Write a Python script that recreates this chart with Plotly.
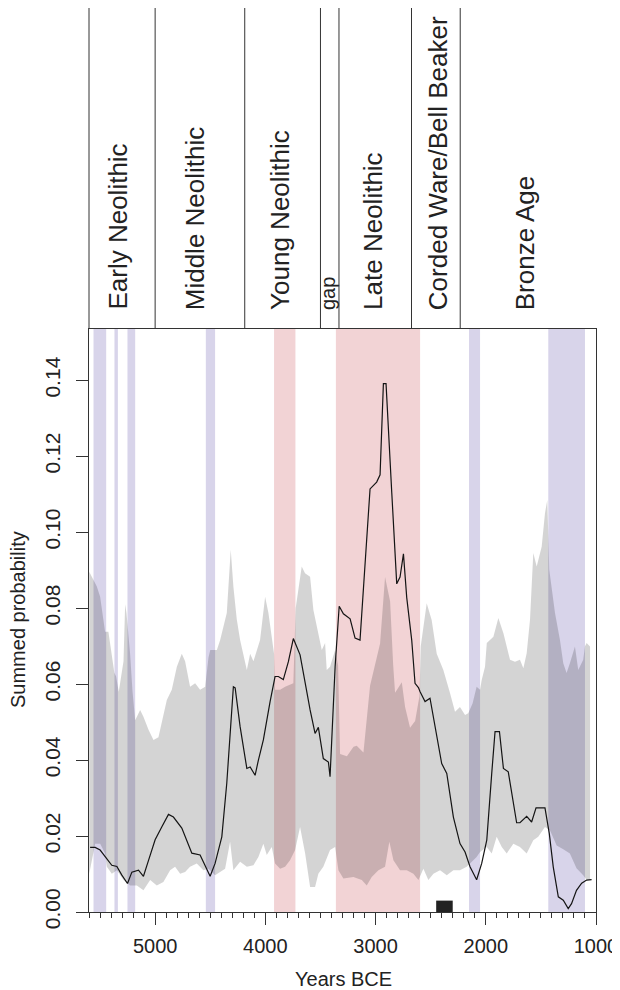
import plotly.graph_objects as go

# ---------------- data ----------------
mean_years = [5590, 5544, 5499, 5454, 5393, 5347, 5302, 5251, 5211, 5151, 5106, 5060, 5000, 4940, 4879,
              4834, 4758, 4667, 4592, 4501, 4456, 4395, 4350, 4290, 4274, 4229, 4168, 4138, 4093, 4063,
              4018, 3957, 3912, 3882, 3837, 3791, 3746, 3685, 3639, 3594, 3549, 3519, 3474, 3428, 3413,
              3367, 3330, 3292, 3231, 3186, 3141, 3095, 3050, 2990, 2959, 2929, 2905, 2853, 2808, 2778,
              2747, 2717, 2672, 2642, 2611, 2596, 2551, 2506, 2460, 2400, 2354, 2294, 2234, 2188, 2143,
              2083, 2037, 1991, 1946, 1916, 1876, 1840, 1796, 1720, 1690, 1629, 1584, 1544, 1463, 1424,
              1388, 1342, 1297, 1252, 1222, 1177, 1130, 1085, 1040]
mean_prob = [0.0170, 0.0170, 0.0163, 0.0145, 0.0123, 0.0120, 0.0097, 0.0075, 0.0105, 0.0110, 0.0094, 0.0136,
             0.0190, 0.0224, 0.0257, 0.0250, 0.0221, 0.0155, 0.0150, 0.0094, 0.0128, 0.0198, 0.0339, 0.0593,
             0.0590, 0.0488, 0.0378, 0.0382, 0.0360, 0.0400, 0.0453, 0.0554, 0.0620, 0.0620, 0.0612, 0.0659,
             0.0720, 0.0677, 0.0602, 0.0532, 0.0470, 0.0486, 0.0404, 0.0395, 0.0356, 0.0646, 0.0805, 0.0785,
             0.0772, 0.0721, 0.0716, 0.0910, 0.1114, 0.1132, 0.1151, 0.1391, 0.1391, 0.1104, 0.0864, 0.0882,
             0.0943, 0.0827, 0.0716, 0.0602, 0.0591, 0.0580, 0.0554, 0.0563, 0.0488, 0.0391, 0.0365, 0.0250,
             0.0180, 0.0158, 0.0119, 0.0085, 0.0128, 0.0189, 0.0365, 0.0475, 0.0475, 0.0378, 0.0369, 0.0235,
             0.0235, 0.0252, 0.0237, 0.0274, 0.0274, 0.0207, 0.0119, 0.0040, 0.0031, 0.0009, 0.0022, 0.0057,
             0.0076, 0.0084, 0.0085]

upper_years = [5598, 5529, 5499, 5454, 5424, 5393, 5370, 5354, 5330, 5287, 5272, 5260, 5227, 5205, 5181,
               5136, 5106, 5060, 5015, 4970, 4925, 4894, 4849, 4803, 4758, 4728, 4683, 4637, 4592, 4546,
               4516, 4500, 4440, 4410, 4350, 4314, 4290, 4259, 4229, 4168, 4138, 4108, 4048, 4002, 3972,
               3942, 3921, 3912, 3866, 3821, 3746, 3725, 3700, 3670, 3640, 3594, 3564, 3534, 3488, 3458,
               3443, 3413, 3367, 3340, 3322, 3260, 3200, 3171, 3110, 3050, 2959, 2914, 2868, 2840, 2823,
               2762, 2732, 2687, 2641, 2602, 2590, 2536, 2491, 2445, 2385, 2324, 2294, 2279, 2234, 2188,
               2159, 2120, 2083, 2052, 2037, 2007, 1991, 1931, 1886, 1840, 1780, 1735, 1690, 1659, 1629,
               1599, 1569, 1538, 1493, 1463, 1442, 1430, 1424, 1372, 1327, 1297, 1267, 1237, 1191, 1161,
               1116, 1100, 1085, 1054]
upper_prob = [0.0896, 0.0857, 0.0830, 0.0738, 0.0738, 0.0680, 0.0630, 0.0620, 0.0580, 0.0660, 0.0810, 0.0787,
              0.0680, 0.0580, 0.0505, 0.0532, 0.0514, 0.0480, 0.0453, 0.0460, 0.0514, 0.0558, 0.0585, 0.0646,
              0.0680, 0.0660, 0.0593, 0.0602, 0.0585, 0.0593, 0.0670, 0.0690, 0.0690, 0.0716, 0.0787, 0.0954,
              0.0857, 0.0770, 0.0716, 0.0637, 0.0680, 0.0660, 0.0716, 0.0830, 0.0787, 0.0716, 0.0680, 0.0585,
              0.0585, 0.0593, 0.0602, 0.0800, 0.0857, 0.0910, 0.0892, 0.0883, 0.0795, 0.0751, 0.0690, 0.0708,
              0.0637, 0.0646, 0.0690, 0.0650, 0.0416, 0.0410, 0.0435, 0.0438, 0.0420, 0.0596, 0.0707, 0.0882,
              0.0818, 0.0650, 0.0577, 0.0605, 0.0540, 0.0485, 0.0503, 0.0568, 0.0700, 0.0813, 0.0769, 0.0680,
              0.0637, 0.0576, 0.0540, 0.0527, 0.0540, 0.0519, 0.0523, 0.0549, 0.0593, 0.0585, 0.0611, 0.0646,
              0.0708, 0.0725, 0.0774, 0.0734, 0.0664, 0.0659, 0.0664, 0.0642, 0.0681, 0.0769, 0.0945, 0.0910,
              0.0962, 0.1050, 0.1085, 0.0950, 0.0901, 0.0787, 0.0716, 0.0655, 0.0629, 0.0655, 0.0699, 0.0637,
              0.0664, 0.0700, 0.0708, 0.0699]

lower_years = [5598, 5544, 5499, 5454, 5438, 5393, 5347, 5287, 5227, 5166, 5106, 5045, 4985, 4925, 4864,
               4819, 4773, 4728, 4683, 4622, 4562, 4516, 4456, 4410, 4365, 4320, 4290, 4229, 4168, 4108,
               4063, 4018, 3987, 3942, 3912, 3866, 3821, 3776, 3730, 3685, 3639, 3594, 3549, 3519, 3474,
               3413, 3367, 3337, 3292, 3201, 3125, 3080, 3035, 2974, 2914, 2875, 2838, 2778, 2717, 2657,
               2611, 2566, 2521, 2475, 2415, 2354, 2294, 2234, 2173, 2083, 2052, 1991, 1946, 1901, 1855,
               1810, 1750, 1690, 1629, 1569, 1524, 1463, 1418, 1357, 1297, 1237, 1177, 1116, 1085, 1054]
lower_prob = [0.0101, 0.0180, 0.0180, 0.0154, 0.0119, 0.0101, 0.0110, 0.0084, 0.0070, 0.0070, 0.0057, 0.0084,
              0.0070, 0.0079, 0.0110, 0.0119, 0.0101, 0.0105, 0.0119, 0.0128, 0.0110, 0.0114, 0.0097, 0.0105,
              0.0114, 0.0185, 0.0110, 0.0132, 0.0119, 0.0123, 0.0145, 0.0180, 0.0150, 0.0171, 0.0128, 0.0114,
              0.0119, 0.0136, 0.0163, 0.0224, 0.0154, 0.0066, 0.0066, 0.0101, 0.0119, 0.0163, 0.0171, 0.0110,
              0.0088, 0.0092, 0.0084, 0.0070, 0.0092, 0.0110, 0.0119, 0.0185, 0.0136, 0.0110, 0.0110, 0.0101,
              0.0084, 0.0114, 0.0084, 0.0101, 0.0110, 0.0097, 0.0110, 0.0110, 0.0119, 0.0145, 0.0158, 0.0171,
              0.0154, 0.0198, 0.0171, 0.0154, 0.0180, 0.0171, 0.0154, 0.0189, 0.0198, 0.0224, 0.0215, 0.0175,
              0.0165, 0.0154, 0.0115, 0.0097, 0.0084, 0.0084]

blue_band_start = [5559, 5369, 5251, 4540, 2152, 1433]
blue_band_end = [5444, 5338, 5181, 4456, 2052, 1100]
pink_band_start = [3921, 3360]
pink_band_end = [3727, 2596]

marker_start, marker_end, marker_height = 2450, 2300, 0.003

period_bounds = [5000, 4187, 3500, 3332, 2674, 2232]
period_labels = ["Early Neolithic", "Middle Neolithic", "Young Neolithic", "gap",
                 "Late Neolithic", "Corded Ware/Bell Beaker", "Bronze Age"]
period_label_x = [5341, 4636, 3868, 3426, 3024, 2432, 1642]

x_ticks = [5000, 4000, 3000, 2000, 1000]
y_ticks = [0.00, 0.02, 0.04, 0.06, 0.08, 0.10, 0.12, 0.14]

# ---------------- layout constants ----------------
# the page body has an 8px margin, so the figure is drawn 8px in from the window edge
W, H = 612, 982
ML, MR, MT, MB = 81, 24, 0, 78
plot_w = W - ML - MR
plot_h = H - MT - MB
main_top_px = 321           # figure px of the top of the main plot frame
main_frac = (H - MB - main_top_px) / plot_h
FONT = "Liberation Sans, Arial, Helvetica, sans-serif"
INK = "#222222"
LINE = "#333333"

fig = go.Figure()

# grey envelope
fig.add_trace(go.Scatter(
    x=upper_years + lower_years[::-1],
    y=upper_prob + lower_prob[::-1],
    fill="toself", fillcolor="rgba(0,0,0,0.17)",
    line=dict(width=0), mode="lines", hoverinfo="skip", showlegend=False))

# mean curve
fig.add_trace(go.Scatter(
    x=mean_years, y=mean_prob, mode="lines",
    line=dict(color="#141414", width=1.2), showlegend=False, hoverinfo="skip"))

shapes = []
for s, e in zip(blue_band_start, blue_band_end):
    shapes.append(dict(type="rect", xref="x", yref="y", x0=s, x1=e, y0=0, y1=0.1535,
                       fillcolor="#d8d4ea", line=dict(width=0), layer="below"))
for s, e in zip(pink_band_start, pink_band_end):
    shapes.append(dict(type="rect", xref="x", yref="y", x0=s, x1=e, y0=0, y1=0.1535,
                       fillcolor="#f2d3d5", line=dict(width=0), layer="below"))
shapes.append(dict(type="rect", xref="x", yref="y", x0=marker_start, x1=marker_end,
                   y0=0, y1=marker_height, fillcolor="#222222", line=dict(width=0), layer="above"))

# top period panel lines
shapes.append(dict(type="line", xref="paper", yref="paper", x0=0, x1=0, y0=main_frac, y1=1,
                   line=dict(color=LINE, width=1)))
for b in period_bounds:
    shapes.append(dict(type="line", xref="x", yref="paper", x0=b, x1=b, y0=main_frac, y1=1,
                       line=dict(color=LINE, width=1)))

annotations = []
label_bottom_px = 304
for lab, lx in zip(period_labels, period_label_x):
    annotations.append(dict(
        text=lab, x=lx, xref="x", y=(H - MB - label_bottom_px) / plot_h, yref="paper",
        textangle=-90, showarrow=False, xanchor="center", yanchor="bottom",
        font=dict(family=FONT, size=20 if lab == "gap" else 26, color=INK)))

annotations.append(dict(text="Years BCE", xref="paper", yref="paper", x=0.5, xshift=1,
                        y=-(971 - (H - MB)) / plot_h, yanchor="middle", xanchor="center",
                        showarrow=False, font=dict(family=FONT, size=20, color=INK)))
annotations.append(dict(text="Summed probability", xref="paper", yref="paper",
                        x=(10 - ML) / plot_w, xanchor="center",
                        y=(H - MB - 612) / plot_h, yanchor="middle", textangle=-90,
                        showarrow=False, font=dict(family=FONT, size=20, color=INK)))

fig.update_layout(
    width=W, height=H, margin=dict(l=ML, r=MR, t=MT, b=MB),
    paper_bgcolor="white", plot_bgcolor="white",
    shapes=shapes, annotations=annotations, showlegend=False,
    font=dict(family=FONT, color=INK),
    xaxis=dict(range=[5600, 1000], showgrid=False, zeroline=False,
               showline=True, linecolor=LINE, linewidth=1, mirror=True,
               ticks="outside", ticklen=12, tickwidth=1, tickcolor=LINE,
               tickvals=x_ticks, ticktext=[str(v) for v in x_ticks],
               tickfont=dict(family=FONT, size=20, color=INK), ticklabelstandoff=4,
               minor=dict(ticks="outside", ticklen=5, tickwidth=1, tickcolor=LINE,
                          dtick=100, tick0=0, showgrid=False)),
    yaxis=dict(range=[0, 0.1535], domain=[0, main_frac], showgrid=False, zeroline=False,
               showline=True, linecolor=LINE, linewidth=1, mirror=True,
               ticks="outside", ticklen=12, tickwidth=1, tickcolor=LINE,
               tickvals=y_ticks, ticktext=[f"{v:.2f}" for v in y_ticks], tickangle=-90,
               tickfont=dict(family=FONT, size=21, color=INK), ticklabelstandoff=8),
)

fig.write_html("out.html", config={"displayModeBar": False},
               post_script="document.documentElement.style.overflow='hidden';")
